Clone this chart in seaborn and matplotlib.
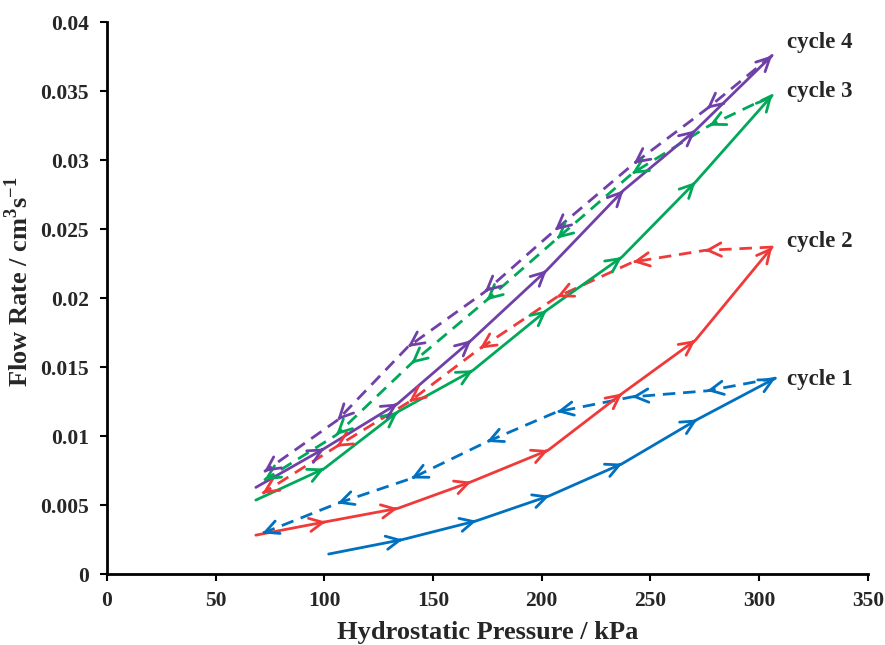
import numpy as np
import pandas as pd
import matplotlib
matplotlib.use('Agg')
import matplotlib.pyplot as plt
from matplotlib.ticker import FuncFormatter, MultipleLocator
import seaborn as sns

# pressure (kPa) / flow rate (cm3/s)
cycle1_up_x = [102, 136, 170, 203.5, 237, 271.5, 307.5]
cycle1_up_y = [0.00145, 0.0025, 0.00386, 0.00567, 0.0080, 0.0112, 0.0142]
cycle1_down_x = [307.5, 276, 241.5, 207, 174.7, 140, 106, 71.5]
cycle1_down_y = [0.0142, 0.01328, 0.01284, 0.01176, 0.00958, 0.00693, 0.00512, 0.00295]

cycle2_up_x = [68.5, 100.7, 133.8, 167.6, 203, 237, 270.7, 306]
cycle2_up_y = [0.00282, 0.00379, 0.00476, 0.00669, 0.00898, 0.01309, 0.01695, 0.0237]
cycle2_down_x = [306, 275, 242, 207, 171.5, 139, 105.4, 71.5]
cycle2_down_y = [0.0237, 0.02346, 0.02262, 0.02008, 0.01634, 0.01248, 0.00922, 0.00584]

cycle3_up_x = [68.5, 100, 133.8, 168.4, 202.3, 236.9, 270.7, 306]
cycle3_up_y = [0.00536, 0.00765, 0.01176, 0.01477, 0.01912, 0.02298, 0.02841, 0.03469]
cycle3_down_x = [306, 277, 241.5, 207, 174.6, 140, 105.4, 72.3]
cycle3_down_y = [0.03469, 0.0325, 0.02902, 0.02431, 0.01984, 0.01526, 0.01007, 0.0068]

cycle4_up_x = [68.5, 100, 133.8, 167.6, 202.3, 237.6, 270.7, 306]
cycle4_up_y = [0.00628, 0.0091, 0.01236, 0.01695, 0.02202, 0.02781, 0.03216, 0.03759]
cycle4_down_x = [306, 276, 242.3, 206, 173.8, 138.4, 106, 72.3]
cycle4_down_y = [0.03759, 0.03373, 0.02974, 0.02491, 0.02045, 0.01646, 0.01115, 0.00741]

cycle_names = ['cycle 1', 'cycle 2', 'cycle 3', 'cycle 4']
cycle_label_y = [0.0141, 0.0241, 0.0350, 0.0385]
colors = ['#0070C0', '#F03A3A', '#00A859', '#7040A8']

sns.set_theme(style='white')
plt.rcParams['font.family'] = ['Liberation Serif', 'DejaVu Serif']
plt.rcParams['font.weight'] = 'bold'
plt.rcParams['mathtext.fontset'] = 'custom'
plt.rcParams['mathtext.rm'] = 'Liberation Serif:bold'
plt.rcParams['mathtext.bf'] = 'Liberation Serif:bold'


def add_arrows(ax, xs, ys, color):
    # open arrowhead at every node after the first, pointing along the path
    for i in range(1, len(xs)):
        x0, y0 = xs[i - 1], ys[i - 1]
        x1, y1 = xs[i], ys[i]
        f = 0.03
        ax.annotate('', xy=(x1, y1), xytext=(x1 - f * (x1 - x0), y1 - f * (y1 - y0)),
                    arrowprops=dict(arrowstyle='->,head_length=0.6,head_width=0.3',
                                    color=color, lw=2.0, shrinkA=0, shrinkB=0,
                                    mutation_scale=16))


fig = plt.figure(figsize=(8.85, 6.45), dpi=100)
ax = fig.add_axes([0.1208, 0.110, 0.8598, 0.8556])

series = [
    (cycle1_up_x, cycle1_up_y, cycle1_down_x, cycle1_down_y),
    (cycle2_up_x, cycle2_up_y, cycle2_down_x, cycle2_down_y),
    (cycle3_up_x, cycle3_up_y, cycle3_down_x, cycle3_down_y),
    (cycle4_up_x, cycle4_up_y, cycle4_down_x, cycle4_down_y),
]

for (ux, uy, dx, dy), col in zip(series, colors):
    sns.lineplot(x=ux, y=uy, sort=False, estimator=None, color=col, lw=2.0, ax=ax)
    sns.lineplot(x=dx, y=dy, sort=False, estimator=None, color=col, lw=2.0,
                 linestyle=(0, (4.5, 2.8)), ax=ax)
    add_arrows(ax, ux, uy, col)
    add_arrows(ax, dx, dy, col)

for name, ly in zip(cycle_names, cycle_label_y):
    ax.text(313, ly, name, fontsize=16.5, fontweight='bold', va='center', ha='left')

ax.set_xlim(0, 350)
ax.set_ylim(0, 0.04)
ax.xaxis.set_major_locator(MultipleLocator(50))
ax.yaxis.set_major_locator(MultipleLocator(0.005))
ax.yaxis.set_major_formatter(FuncFormatter(lambda v, p: f'{v:g}' if abs(v) > 1e-12 else '0'))

sns.despine(ax=ax)
for s in ['left', 'bottom']:
    ax.spines[s].set_color('black')
    ax.spines[s].set_linewidth(2)
ax.tick_params(axis='both', direction='out', length=5, width=1.5, color='black',
               labelsize=15.5, bottom=True, left=True)
ax.tick_params(axis='x', pad=7)
ax.tick_params(axis='y', pad=8)
for lab in ax.get_xticklabels() + ax.get_yticklabels():
    lab.set_fontweight('bold')

ax.set_xlabel('Hydrostatic Pressure / kPa', fontsize=19, fontweight='bold')
ax.set_ylabel(r'Flow Rate / cm$^{3}$s$^{-1}$', fontsize=19, fontweight='bold')
ax.xaxis.set_label_coords(0.5, -0.085)
ax.yaxis.set_label_coords(-0.097, 0.53)

fig.savefig('out.png', dpi=100)
